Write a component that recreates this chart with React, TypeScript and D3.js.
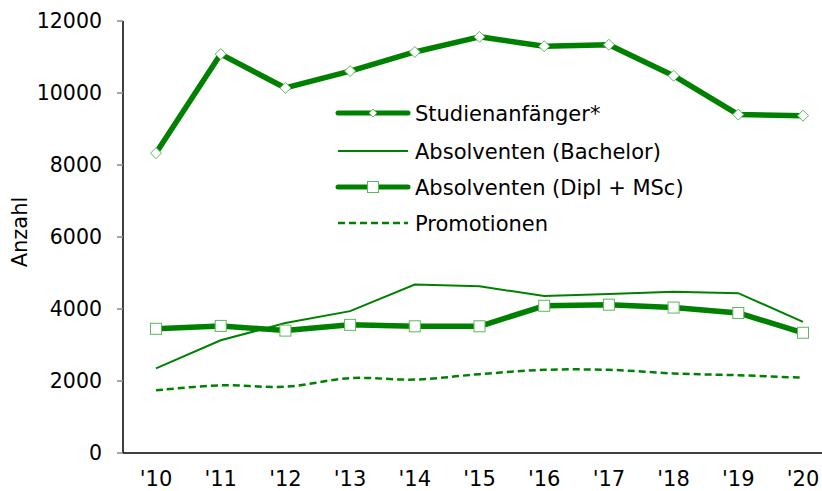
import React from "react";
import * as d3 from "d3";

const years = ["'10", "'11", "'12", "'13", "'14", "'15", "'16", "'17", "'18", "'19", "'20"];
const studienanfaenger = [8330, 11080, 10140, 10610, 11140, 11560, 11300, 11340, 10480, 9400, 9370];
const bachelor = [2350, 3130, 3610, 3940, 4680, 4630, 4360, 4420, 4480, 4440, 3640];
const diplMsc = [3450, 3530, 3400, 3560, 3520, 3520, 4090, 4120, 4040, 3890, 3340];
const promotionen = [1740, 1880, 1840, 2080, 2040, 2190, 2310, 2310, 2210, 2160, 2090];
const yTicks = [0, 2000, 4000, 6000, 8000, 10000, 12000];
const legendLabels = ["Studienanfänger*", "Absolventen (Bachelor)", "Absolventen (Dipl + MSc)", "Promotionen"];

const GREEN = "#008000";
const MARKER = "#5cb85c";
const FONT = "Verdana, 'DejaVu Sans', sans-serif";

export default function App() {
  const W = 822, H = 491;
  const x = d3.scalePoint<string>().domain(years).range([156, 803]);
  const y = d3.scaleLinear().domain([0, 12000]).range([453, 21]);
  const line = d3.line<number>().x((_, i) => x(years[i])!).y((d) => y(d));
  const smooth = d3.line<number>().x((_, i) => x(years[i])!).y((d) => y(d)).curve(d3.curveCatmullRom.alpha(0.5));
  const axisX = 123;

  const legendY = [113, 151, 187, 223];
  const lx0 = 338, lx1 = 408, ltx = 415;

  return (
    <svg width={W} height={H} style={{ position: "absolute", left: 0, top: 0, background: "#fff" }} fontFamily={FONT}>
      {/* y axis */}
      <line x1={axisX} x2={axisX} y1={y(12000)} y2={y(0)} stroke="#000" strokeWidth={1.5} />
      <line x1={axisX} x2={W} y1={y(0)} y2={y(0)} stroke="#000" strokeWidth={1.5} />
      {yTicks.map((t) => (
        <g key={t}>
          <line x1={axisX - 6} x2={axisX} y1={y(t)} y2={y(t)} stroke="#888" strokeWidth={1.5} />
          <text x={102} y={y(t)} dy="0.36em" textAnchor="end" fontSize={20.5} fill="#000">{t}</text>
        </g>
      ))}
      {years.map((yr) => (
        <text key={yr} x={x(yr)} y={486} textAnchor="middle" fontSize={21} fill="#000">{yr}</text>
      ))}
      <text transform={`translate(27,${232}) rotate(-90)`} textAnchor="middle" fontSize={21} fill="#000">Anzahl</text>

      {/* series */}
      <path d={smooth(promotionen)!} fill="none" stroke={GREEN} strokeWidth={2.5} strokeDasharray="7,4" />
      <path d={line(bachelor)!} fill="none" stroke={GREEN} strokeWidth={2} />
      <path d={line(diplMsc)!} fill="none" stroke={GREEN} strokeWidth={5.5} strokeLinejoin="round" />
      {diplMsc.map((v, i) => (
        <rect key={i} x={x(years[i])! - 5.5} y={y(v) - 5.5} width={11} height={11} fill="#fff" stroke={MARKER} strokeWidth={1} />
      ))}
      <path d={line(studienanfaenger)!} fill="none" stroke={GREEN} strokeWidth={5.5} strokeLinejoin="round" />
      {studienanfaenger.map((v, i) => {
        const cx = x(years[i])!, cy = y(v), r = 5.5;
        return <path key={i} d={`M${cx},${cy - r}L${cx + r},${cy}L${cx},${cy + r}L${cx - r},${cy}Z`} fill="#fff" stroke={MARKER} strokeWidth={1} />;
      })}

      {/* legend */}
      <g>
        <line x1={lx0} x2={lx1} y1={legendY[0]} y2={legendY[0]} stroke={GREEN} strokeWidth={5} strokeLinecap="round" />
        <path d={`M${(lx0 + lx1) / 2},${legendY[0] - 4}L${(lx0 + lx1) / 2 + 4},${legendY[0]}L${(lx0 + lx1) / 2},${legendY[0] + 4}L${(lx0 + lx1) / 2 - 4},${legendY[0]}Z`} fill="#fff" stroke={MARKER} strokeWidth={1} />
        <line x1={lx0} x2={lx1} y1={legendY[1]} y2={legendY[1]} stroke={GREEN} strokeWidth={2} />
        <line x1={lx0} x2={lx1} y1={legendY[2]} y2={legendY[2]} stroke={GREEN} strokeWidth={5} strokeLinecap="round" />
        <rect x={(lx0 + lx1) / 2 - 5.5} y={legendY[2] - 5.5} width={11} height={11} fill="#fff" stroke={MARKER} strokeWidth={1} />
        <line x1={lx0} x2={lx1} y1={legendY[3]} y2={legendY[3]} stroke={GREEN} strokeWidth={2.5} strokeDasharray="7,4" />
        {legendLabels.map((l, i) => (
          <text key={l} x={ltx} y={legendY[i]} dy="0.36em" fontSize={21} fill="#000">{l}</text>
        ))}
      </g>
    </svg>
  );
}
